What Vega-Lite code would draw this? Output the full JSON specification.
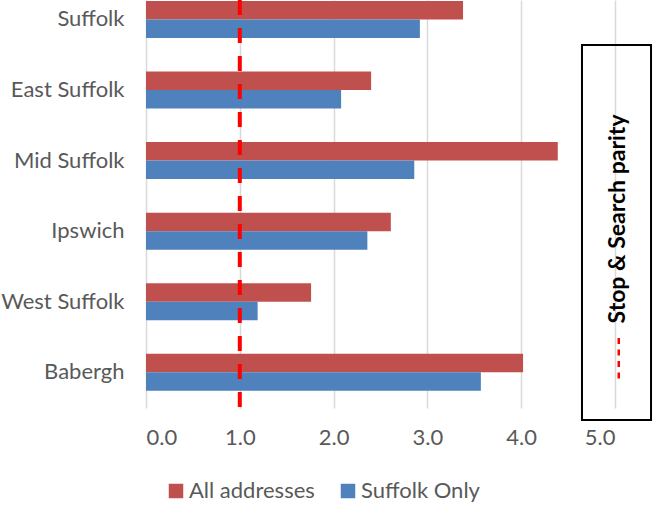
{
  "$schema": "https://vega.github.io/schema/vega-lite/v6.json",
  "autosize": {"type": "none"},
  "width": 469,
  "height": 408,
  "padding": {"left": 146, "top": 0, "right": 39, "bottom": 97},
  "background": "white",
  "config": {
    "view": {"stroke": null},
    "font": "Lato",
    "axis": {"labelFont": "Lato", "labelColor": "#595959", "labelFontSize": 22},
    "legend": {"labelFont": "Lato", "labelColor": "#595959", "labelFontSize": 22}
  },
  "resolve": {"scale": {"y": "independent"}},
  "layer": [
    {
      "data": {"values": [
        {"area": "Suffolk", "series": "All addresses", "value": 3.38},
        {"area": "Suffolk", "series": "Suffolk Only", "value": 2.92},
        {"area": "East Suffolk", "series": "All addresses", "value": 2.40},
        {"area": "East Suffolk", "series": "Suffolk Only", "value": 2.08},
        {"area": "Mid Suffolk", "series": "All addresses", "value": 4.39},
        {"area": "Mid Suffolk", "series": "Suffolk Only", "value": 2.86},
        {"area": "Ipswich", "series": "All addresses", "value": 2.61},
        {"area": "Ipswich", "series": "Suffolk Only", "value": 2.36},
        {"area": "West Suffolk", "series": "All addresses", "value": 1.76},
        {"area": "West Suffolk", "series": "Suffolk Only", "value": 1.19},
        {"area": "Babergh", "series": "All addresses", "value": 4.02},
        {"area": "Babergh", "series": "Suffolk Only", "value": 3.57}
      ]},
      "mark": {"type": "bar"},
      "encoding": {
        "y": {
          "field": "area", "type": "nominal",
          "sort": ["Suffolk", "East Suffolk", "Mid Suffolk", "Ipswich", "West Suffolk", "Babergh"],
          "scale": {"paddingInner": 0.476, "paddingOuter": 0.128, "align": 0.05},
          "axis": {"title": null, "domain": false, "ticks": false, "labelPadding": 22}
        },
        "yOffset": {
          "field": "series", "type": "nominal",
          "sort": ["All addresses", "Suffolk Only"],
          "scale": {"paddingInner": 0, "paddingOuter": 0}
        },
        "x": {
          "field": "value", "type": "quantitative",
          "scale": {"domain": [0, 5], "nice": false},
          "axis": {
            "title": null, "values": [0, 1, 2, 3, 4, 5], "format": ".1f",
            "grid": true, "gridColor": "#D9D9D9", "gridWidth": 1.5,
            "domain": false, "ticks": false, "labelPadding": 19
          }
        },
        "color": {
          "field": "series", "type": "nominal",
          "scale": {"domain": ["All addresses", "Suffolk Only"], "range": ["#C0504D", "#4F81BD"]},
          "legend": {
            "title": null, "orient": "none", "legendX": 19, "legendY": 480, "direction": "horizontal",
            "symbolType": "square", "symbolSize": 210, "symbolStrokeWidth": 0,
            "columnPadding": 22, "labelOffset": 2
          }
        }
      }
    },
    {
      "data": {"values": [{"parity": 1}]},
      "mark": {"type": "rule", "color": "#FF0000", "strokeWidth": 4, "strokeDash": [15, 13]},
      "encoding": {"x": {"field": "parity", "type": "quantitative"}}
    },
    {
      "data": {"values": [{"x0": 4.648, "x1": 5.384, "y0": 0.662, "y1": 6.176}]},
      "mark": {"type": "rect", "fill": null, "fillOpacity": 0, "stroke": "black", "strokeWidth": 2},
      "encoding": {
        "x": {"field": "x0", "type": "quantitative"},
        "x2": {"field": "x1"},
        "y": {"field": "y0", "type": "quantitative", "scale": {"domain": [0, 6], "reverse": true, "nice": false, "zero": false}, "axis": null},
        "y2": {"field": "y1"}
      }
    },
    {
      "data": {"values": [{"x": 5.03, "y": 3.22, "label": "Stop & Search parity"}]},
      "mark": {"type": "text", "angle": 270, "align": "center", "baseline": "middle", "font": "Lato", "fontWeight": "bold", "fontSize": 23, "color": "black"},
      "encoding": {
        "x": {"field": "x", "type": "quantitative"},
        "y": {"field": "y", "type": "quantitative", "scale": {"domain": [0, 6], "reverse": true, "nice": false, "zero": false}, "axis": null},
        "text": {"field": "label"}
      }
    },
    {
      "data": {"values": [{"x": 5.04, "y0": 4.97, "y1": 5.57}]},
      "mark": {"type": "rule", "color": "#FF0000", "strokeWidth": 2.5, "strokeDash": [6, 5.5]},
      "encoding": {
        "x": {"field": "x", "type": "quantitative"},
        "y": {"field": "y0", "type": "quantitative", "scale": {"domain": [0, 6], "reverse": true, "nice": false, "zero": false}, "axis": null},
        "y2": {"field": "y1"}
      }
    }
  ]
}
